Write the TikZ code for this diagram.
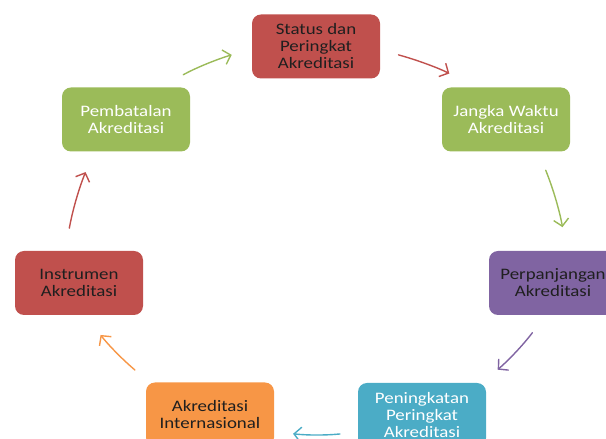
\documentclass[tikz,border=0pt]{standalone}
\usepackage{fontspec}
\setmainfont{Carlito}[FakeStretch=1.18]
\usetikzlibrary{arrows.meta}
\definecolor{boxred}{HTML}{C0504D}
\definecolor{boxgreen}{HTML}{9BBB59}
\definecolor{boxpurple}{HTML}{8064A2}
\definecolor{boxblue}{HTML}{4BACC6}
\definecolor{boxorange}{HTML}{F79646}
\definecolor{darktext}{HTML}{1F1F1F}
\begin{document}
\begin{tikzpicture}[x=1pt,y=1pt,>={Straight Barb[length=7pt,width=15pt]},line cap=round,line join=round,
	font=\fontsize{16}{17}\selectfont,
	box/.style={rounded corners=9pt,minimum width=128pt,minimum height=64pt,align=center,inner sep=2pt},
	arr/.style={->,line width=1.4pt,bend left=6}]
	\useasboundingbox (0,0) rectangle (606,439);
	% boxes round the cycle
	\node[box,fill=boxred,text=darktext] (status) at (316,392.5) {Status dan\\Peringkat\\Akreditasi};
	\node[box,fill=boxgreen,text=white] (jangka) at (506,319.5) {Jangka Waktu\\Akreditasi};
	\node[box,fill=boxpurple,text=darktext] (perpanjangan) at (553,156) {Perpanjangan\\Akreditasi};
	\node[box,fill=boxblue,text=white] (peningkatan) at (422,24) {Peningkatan\\Peringkat\\Akreditasi};
	\node[box,fill=boxorange,text=darktext] (internasional) at (210,24.5) {Akreditasi\\Internasional};
	\node[box,fill=boxred,text=darktext] (instrumen) at (79,156) {Instrumen\\Akreditasi};
	\node[box,fill=boxgreen,text=white] (pembatalan) at (126,319.5) {Pembatalan\\Akreditasi};
	% arrows
	\draw[arr,boxred,shorten <=19pt,shorten >=30pt] (status.-3) to (jangka.133);
	\draw[arr,boxgreen,shorten <=20pt,shorten >=24pt] (jangka.-45) to (perpanjangan.67);
	\draw[arr,boxpurple,shorten <=22pt,shorten >=20pt] (perpanjangan.-103) to (peningkatan.28);
	\draw[arr,boxblue,shorten <=18pt,shorten >=19pt] (peningkatan.195) to (internasional.-15);
	\draw[arr,boxorange,shorten <=19pt,shorten >=25pt] (internasional.152) to (instrumen.-79);
	\draw[arr,boxred,shorten <=23pt,shorten >=22pt] (instrumen.113) to (pembatalan.225);
	\draw[arr,boxgreen,shorten <=26pt,shorten >=21pt] (pembatalan.43) to (status.182);
\end{tikzpicture}
\end{document}
